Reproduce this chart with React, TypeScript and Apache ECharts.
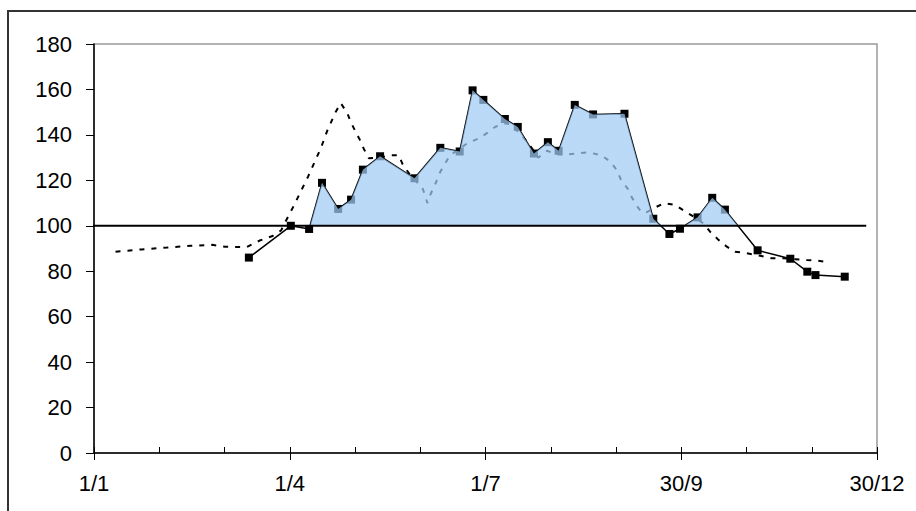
import React, { useEffect, useRef } from "react";
import * as echarts from "echarts";

// x axis: day of year (0 = 1/1)
const tickDays = [0, 91, 182, 273, 364];
const tickLabels = ["1/1", "1/4", "1/7", "30/9", "30/12"];

// solid series (with square markers)
const solidDays = [72, 91.5, 100, 106, 113.5, 119.5, 125, 133, 149, 161, 170, 176, 181, 191, 197, 204.5, 211, 216, 223.5, 232, 246.6, 260, 267.5, 272.4, 280.6, 287.4, 293.3, 308.5, 323.7, 331.6, 335.4, 349];
const solidValues = [86, 100, 98.6, 118.9, 107.4, 111.5, 124.7, 130.6, 120.9, 134.3, 132.7, 159.6, 155.4, 147, 143.5, 131.8, 136.8, 133, 153.2, 149, 149.3, 103.1, 96.4, 98.7, 103.7, 112.3, 107.1, 89.2, 85.5, 79.8, 78.3, 77.6];

// dashed series
const dashedDays = [10, 22, 34, 45, 55, 61, 71, 77, 83, 87, 89, 93, 95.3, 99.5, 103, 105.4, 108.5, 112.3, 114.7, 117.8, 119.3, 121.6, 123.6, 125.5, 127.8, 133, 138, 141.7, 143.5, 148, 152.6, 155, 156.5, 158.8, 161, 163, 165.5, 170, 173.5, 179, 183, 186.6, 191.3, 194, 196, 200, 203.7, 206.5, 210.6, 215, 219, 224.6, 230, 236, 240, 243, 245, 248, 250, 252.4, 254.7, 257, 261, 265, 270, 275, 280, 283.3, 286.4, 290.3, 294.2, 298, 303.4, 309.7, 315, 320.5, 326, 331.3, 336.7, 342.2];
const dashedValues = [88.6, 89.6, 90.4, 91.2, 91.6, 90.8, 90.6, 93.5, 95.5, 98, 101.8, 109, 113.5, 121.6, 129, 134, 142, 150, 154, 149.5, 145.8, 141.4, 137.8, 133.7, 129.7, 130, 131, 131, 127, 121, 117, 110, 114, 118.7, 123.8, 127, 131, 134, 136.3, 138.5, 141, 143.6, 145.1, 144.6, 142.5, 138.5, 134, 130, 133, 131.5, 131.2, 131.9, 132.3, 131, 128.2, 124.6, 120.2, 116.5, 112.5, 108.7, 105.8, 106, 108.1, 110, 109.2, 106.2, 103.3, 101, 97.4, 93.8, 90.8, 88.6, 87.9, 86.8, 85.7, 85.7, 85.3, 84.9, 84.6, 83.8];

// reference level line
const refLevel = 100;
const refLineDays = [-4, 359];
const yMax = 180;

const FONT = "Liberation Sans";

export default function App() {
  const ref = useRef<HTMLDivElement>(null);
  useEffect(() => {
    if (!ref.current) return;
    const chart = echarts.init(ref.current, null, { renderer: "svg" });
    const solid = solidDays.map((d, i) => [d, solidValues[i]]);
    const dashed = dashedDays.map((d, i) => [d, dashedValues[i]]);
    const refLine = refLineDays.map((d) => [d, refLevel]);
    const labelFor = (v: number) => {
      const idx = tickDays.findIndex((t) => Math.abs(t - v) < 0.5);
      return idx >= 0 ? tickLabels[idx] : "";
    };
    chart.setOption({
      animation: false,
      backgroundColor: "#ffffff",
      graphic: [
        {
          type: "rect",
          shape: { x: 8, y: 11, width: 1000, height: 600 },
          style: { fill: "none", stroke: "#333333", lineWidth: 2 },
          silent: true,
        },
      ],
      grid: {
        left: 94,
        right: 39,
        top: 44,
        bottom: 58,
        show: true,
        borderColor: "#999999",
        borderWidth: 1.5,
        backgroundColor: "transparent",
      },
      xAxis: [
        {
          type: "value",
          min: 0,
          max: 364,
          interval: 91,
          position: "bottom",
          axisLine: { show: true, onZero: false, lineStyle: { color: "#000", width: 1.5 } },
          axisTick: { show: true, inside: false, length: 7, lineStyle: { color: "#000", width: 1 } },
          splitLine: { show: false },
          axisLabel: {
            show: true,
            margin: 19,
            fontFamily: FONT,
            fontSize: 22,
            color: "#000",
            formatter: (v: number) => labelFor(v),
          },
        },
        {
          type: "value",
          min: 0,
          max: 364,
          interval: 91,
          position: "bottom",
          axisLine: { show: false, onZero: false },
          axisTick: { show: true, inside: true, length: 6, lineStyle: { color: "#000", width: 1 } },
          minorTick: { show: true, splitNumber: 3, length: 6, lineStyle: { color: "#000", width: 1 } },
          splitLine: { show: false },
          axisLabel: { show: false },
        },
      ],
      yAxis: {
        type: "value",
        min: 0,
        max: yMax,
        interval: 20,
        axisLine: { show: true, lineStyle: { color: "#000", width: 1.5 } },
        axisTick: { show: true, inside: false, length: 8, lineStyle: { color: "#000", width: 1 } },
        splitLine: { show: false },
        axisLabel: { margin: 22, fontFamily: FONT, fontSize: 22, color: "#000" },
      },
      visualMap: {
        show: false,
        type: "piecewise",
        seriesIndex: 2,
        dimension: 1,
        pieces: [
          { gte: 0, lte: refLevel, color: "rgba(159,203,245,0)" },
          { gt: refLevel, lte: yMax, color: "#9fcbf5" },
        ],
      },
      series: [
        {
          type: "line",
          data: dashed,
          symbol: "none",
          z: 2,
          lineStyle: { color: "#000", width: 2, type: [5, 7] },
        },
        {
          type: "line",
          data: solid,
          symbol: "rect",
          symbolSize: 8,
          z: 3,
          itemStyle: { color: "#000" },
          lineStyle: { color: "#000", width: 1.5 },
        },
        {
          type: "line",
          data: solid,
          symbol: "none",
          z: 4,
          lineStyle: { opacity: 0 },
          areaStyle: { origin: refLevel, opacity: 0.72 },
        },
        {
          type: "line",
          data: refLine,
          symbol: "none",
          clip: false,
          z: 5,
          lineStyle: { color: "#000", width: 2 },
        },
      ],
    });
    return () => chart.dispose();
  }, []);
  return (
    <div
      ref={ref}
      style={{ position: "fixed", left: 0, top: 0, width: 916, height: 511 }}
    />
  );
}
